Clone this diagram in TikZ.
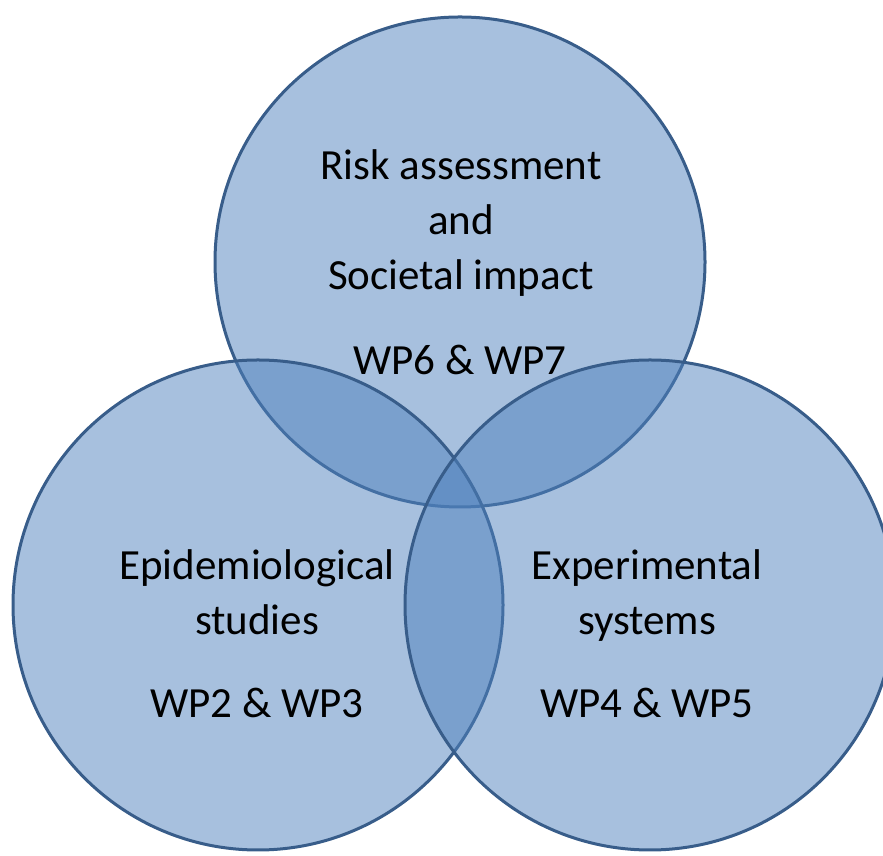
\documentclass[tikz,border=0pt]{standalone}
\usepackage{fontspec}
\setmainfont{Carlito}
\definecolor{vennfill}{HTML}{4F81BD}
\definecolor{vennline}{HTML}{385D8A}
\tikzset{
  venn/.style={fill=vennfill, fill opacity=0.5, draw=vennline, line width=3pt},
  lbl/.style={align=center, font=\fontsize{43}{55}\selectfont, text=black, inner sep=0pt, anchor=base},
}
\begin{document}
\begin{tikzpicture}[x=1pt, y=1pt]
    \useasboundingbox (0,0) rectangle (883,856);
    \clip (0,0) rectangle (883,856);

    % the three work package circles
    \draw[venn] (460,594) circle (245);
    \draw[venn] (258,251) circle (245);
    \draw[venn] (650,251) circle (245);

    % top: risk and society
    \node[lbl] (riskLbl) at (461,566) {Risk assessment\\and\\Societal impact};
    \node[lbl] (riskWP) at (460,481) {WP6 \& WP7};

    % left: epidemiology
    \node[lbl] (epiLbl) at (257,221) {Epidemiological\\studies};
    \node[lbl] (epiWP) at (257,138) {WP2 \& WP3};

    % right: experiments
    \node[lbl] (expLbl) at (647,221) {Experimental\\systems};
    \node[lbl] (expWP) at (647,138) {WP4 \& WP5};
\end{tikzpicture}
\end{document}
